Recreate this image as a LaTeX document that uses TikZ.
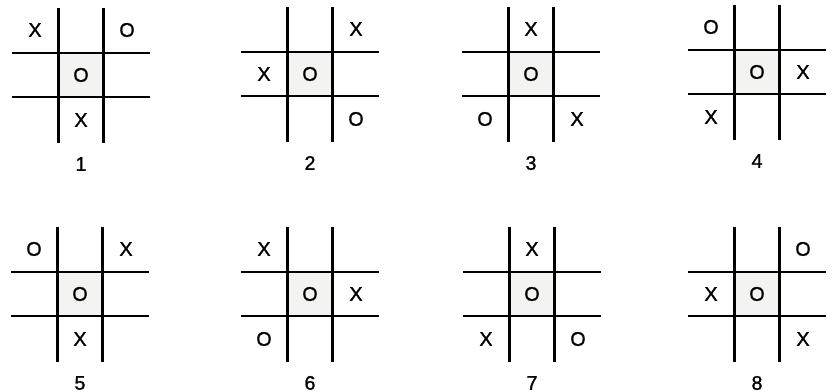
\documentclass[tikz,border=0pt]{standalone}
\usepackage{fontspec}
\setmainfont{Liberation Sans}
\newfontfamily\boardfont{Liberation Sans}[FakeBold=1.2]
\usepackage{xcolor}
\definecolor{cellgray}{HTML}{F3F3F1}

\begin{document}
\begin{tikzpicture}[x=0.025cm, y=-0.025cm,
  gridline/.style={line width=1.9pt, black},
  midcell/.style={fill=cellgray},
  piece/.style={inner sep=0pt, font=\boardfont\fontsize{14}{16}\selectfont},
  caption/.style={inner sep=0pt, font=\boardfont\fontsize{14}{16}\selectfont}
]
  \useasboundingbox (0,0) rectangle (832,392);
  % one board per entry: number / centre x / centre y / outer pieces (col/row/letter)
  \foreach \n/\cx/\cy/\pieces in {
      1/81/75/{0/0/X,2/0/O,1/2/X},
      2/310/74/{2/0/X,0/1/X,2/2/O},
      3/531/74/{1/0/X,0/2/O,2/2/X},
      4/757/72/{0/0/O,2/1/X,0/2/X},
      5/80/294/{0/0/O,2/0/X,1/2/X},
      6/310/294/{0/0/X,2/1/X,0/2/O},
      7/532/294/{1/0/X,0/2/X,2/2/O},
      8/757/294/{2/0/O,0/1/X,2/2/X}} {
    \fill[midcell] (\cx-22.5,\cy-22) rectangle (\cx+22.5,\cy+22);
    \draw[gridline] (\cx-22.5,\cy-67) -- (\cx-22.5,\cy+68);
    \draw[gridline] (\cx+22.5,\cy-67) -- (\cx+22.5,\cy+68);
    \draw[gridline] (\cx-69,\cy-22) -- (\cx+69,\cy-22);
    \draw[gridline] (\cx-69,\cy+22) -- (\cx+69,\cy+22);
    \node[piece] (mid\n) at (\cx,\cy) {O};
    \foreach \c/\r/\t in \pieces
      \node[piece] (p\n-\c\r) at ({\cx+(\c-1)*46},{\cy+(\r-1)*45}) {\t};
    \node[caption] (num\n) at (\cx,\cy+89) {\n};
  }
\end{tikzpicture}
\end{document}
